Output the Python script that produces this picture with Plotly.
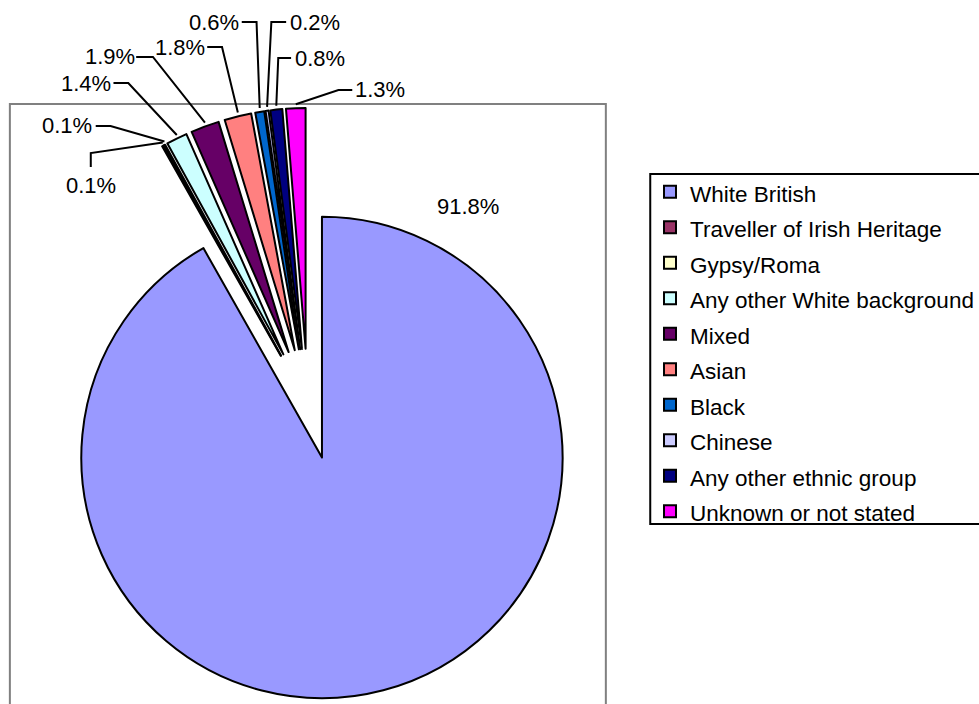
import math
import plotly.graph_objects as go

# ---------------- data ----------------
categories = ["White British", "Traveller of Irish Heritage", "Gypsy/Roma",
              "Any other White background", "Mixed", "Asian", "Black",
              "Chinese", "Any other ethnic group", "Unknown or not stated"]
percentages = [91.8, 0.1, 0.1, 1.4, 1.9, 1.8, 0.6, 0.2, 0.8, 1.3]
value_labels = ["91.8%", "0.1%", "0.1%", "1.4%", "1.9%", "1.8%", "0.6%", "0.2%", "0.8%", "1.3%"]

# ---------------- style / layout ----------------
colors = ["#9999FF", "#993366", "#FFFFCC", "#CCFFFF", "#660066",
          "#FF8080", "#0066CC", "#CCCCFF", "#000080", "#FF00FF"]
W, H = 979, 704
PIE_BOX = (12, 104, 612, 704)   # pixel box the pie (incl. explosion) fits in
PULL = 0.23
FONT = "Liberation Sans, Arial, sans-serif"

# label placement (pixels): label centre, leader start, leader elbow
label_pos = [(474, 206), (92, 186), (68, 126), (87, 83), (111, 57),
             (182, 47), (217, 22), (319, 22), (324, 58), (385, 90)]
leader_start = [None, (92, 167), (97, 126), (115, 83), (138, 57),
                (210, 47), (245, 22), (290, 22), (295, 58), (357, 90)]
leader_elbow = [None, (92, 153), (112, 126), (130, 83), (155, 57),
                (225, 47), (260, 22), (275, 22), (282, 58), (343, 90)]


def px(x):
    return x / W


def py(y):
    return 1 - y / H


fig = go.Figure()
fig.add_trace(go.Pie(
    labels=['<span style="font-size:22.5px">%s</span>' % c for c in categories],
    values=percentages,
    sort=False,
    direction="clockwise",
    rotation=0,
    pull=[PULL] * len(percentages),
    textinfo="none",
    hoverinfo="label+percent",
    marker=dict(colors=colors, line=dict(color="#000000", width=2)),
    domain=dict(x=[px(PIE_BOX[0]), px(PIE_BOX[2])],
                y=[py(PIE_BOX[3]), py(PIE_BOX[1])]),
    showlegend=True,
))

# geometry of the exploded slices, derived from the data
cx = (PIE_BOX[0] + PIE_BOX[2]) / 2
cy = (PIE_BOX[1] + PIE_BOX[3]) / 2
rbox = min(PIE_BOX[2] - PIE_BOX[0], PIE_BOX[3] - PIE_BOX[1]) / 2
total = sum(percentages)
cum = 0.0
shapes = []
annotations = []
for i, v in enumerate(percentages):
    mid = (cum + v / 2) / total * 2 * math.pi
    cum += v
    ex = cx + rbox * math.sin(mid)
    ey = cy - rbox * math.cos(mid)
    lx, ly = label_pos[i]
    annotations.append(dict(x=px(lx), y=py(ly), xref="paper", yref="paper",
                            text=value_labels[i], showarrow=False,
                            xanchor="center", yanchor="middle",
                            font=dict(family=FONT, size=22, color="#000000")))
    if leader_start[i] is not None:
        s, e = leader_start[i], leader_elbow[i]
        path = "M %f,%f L %f,%f L %f,%f" % (px(s[0]), py(s[1]), px(e[0]), py(e[1]),
                                          px(ex), py(ey))
        shapes.append(dict(type="path", xref="paper", yref="paper", path=path,
                           line=dict(color="#000000", width=2), layer="above"))

# plot-area border and legend border (legend box runs past the right edge)
shapes.append(dict(type="rect", xref="paper", yref="paper",
                   x0=px(10), x1=px(614), y0=-0.05, y1=py(104),
                   line=dict(color="#808080", width=2), layer="below"))
shapes.append(dict(type="rect", xref="paper", yref="paper",
                   x0=px(659), x1=1.2, y0=py(524), y1=py(174),
                   line=dict(color="#000000", width=2), layer="below"))

fig.update_layout(
    width=W, height=H,
    margin=dict(l=0, r=0, t=0, b=0),
    paper_bgcolor="#FFFFFF",
    plot_bgcolor="#FFFFFF",
    font=dict(family=FONT, color="#000000"),
    legend=dict(x=px(659), y=py(169), xanchor="left", yanchor="top",
                font=dict(family=FONT, size=25, color="#000000"),
                borderwidth=0, bgcolor="rgba(0,0,0,0)",
                itemclick=False, itemdoubleclick=False),
    shapes=shapes,
    annotations=annotations,
)

fig.write_html("out.html", config={"displayModeBar": False},
               post_script="document.body.style.margin='0';document.body.style.overflow='hidden';")
